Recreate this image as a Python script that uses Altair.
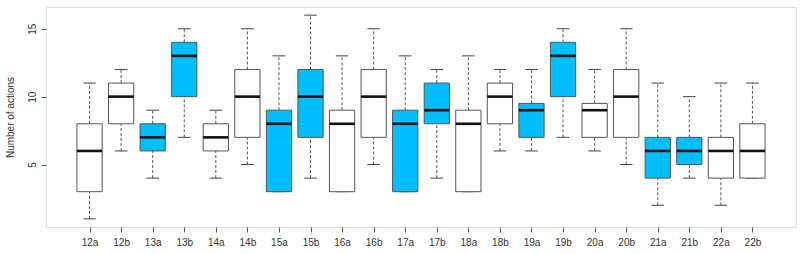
import altair as alt
import pandas as pd

labels = ["12a","12b","13a","13b","14a","14b","15a","15b","16a","16b","17a",
          "17b","18a","18b","19a","19b","20a","20b","21a","21b","22a","22b"]
lower = [1, 6, 4, 7, 4, 5, 3, 4, 3, 5, 3, 4, 3, 6, 6, 7, 6, 5, 2, 4, 2, 4]
q1    = [3, 8, 6, 10, 6, 7, 3, 7, 3, 7, 3, 8, 3, 8, 7, 10, 7, 7, 4, 5, 4, 4]
med   = [6, 10, 7, 13, 7, 10, 8, 10, 8, 10, 8, 9, 8, 10, 9, 13, 9, 10, 6, 6, 6, 6]
q3    = [8, 11, 8, 14, 8, 12, 9, 12, 9, 12, 9, 11, 9, 11, 9.5, 14, 9.5, 12, 7, 7, 7, 8]
upper = [11, 12, 9, 15, 9, 15, 13, 16, 13, 15, 13, 12, 13, 12, 12, 15, 12, 15, 11, 10, 11, 11]
group = ["w","w","b","b","w","w","b","b","w","w","b","b","w","w","b","b","w","w","b","b","w","w"]

df = pd.DataFrame({
    "i": list(range(1, len(labels) + 1)),
    "label": labels, "lo": lower, "q1": q1, "med": med, "q3": q3, "hi": upper, "g": group,
})

label_expr = "[" + ",".join("'%s'" % l for l in labels) + "][datum.value - 1]"

xscale = alt.Scale(domain=[-0.38, 23.38], nice=False, zero=False)
yscale = alt.Scale(domain=[0.4, 16.6], nice=False, zero=False)

xaxis = alt.Axis(values=list(range(1, 23)), labelExpr=label_expr, grid=False,
                 domain=False, tickSize=5, tickColor="#555", labelFont="Liberation Sans",
                 labelFontSize=10, labelColor="#333", labelPadding=5, labelOverlap=False,
                 labelFlush=False, labelBound=False, title=None)
yaxis = alt.Axis(values=[5, 10, 15], grid=False, domain=False, tickSize=5, tickColor="#555",
                 labelAngle=-90, labelAlign="center", labelBaseline="bottom",
                 labelFont="Liberation Sans", labelFontSize=10, labelColor="#333",
                 labelPadding=4, labelOverlap=False,
                 title="Number of actions", titleFont="Liberation Sans",
                 titleFontSize=10, titleFontWeight="normal", titleColor="#333", titlePadding=12)

def X(f):
    return alt.X(f, scale=xscale, axis=xaxis)

def Y(f):
    return alt.Y(f, scale=yscale, axis=yaxis)

base = alt.Chart(df).transform_calculate(
    xl="datum.i - 0.4", xr="datum.i + 0.4", cl="datum.i - 0.2", cr="datum.i + 0.2"
)

wl = base.mark_rule(strokeDash=[3, 2], color="#555", strokeWidth=1).encode(
    x=X("i:Q"), y=Y("lo:Q"), y2="q1:Q")
wu = base.mark_rule(strokeDash=[3, 2], color="#555", strokeWidth=1).encode(
    x=X("i:Q"), y=Y("q3:Q"), y2="hi:Q")
cap_lo = base.mark_rule(color="#444", strokeWidth=1).encode(
    x=X("cl:Q"), x2="cr:Q", y=Y("lo:Q"))
cap_hi = base.mark_rule(color="#444", strokeWidth=1).encode(
    x=X("cl:Q"), x2="cr:Q", y=Y("hi:Q"))
box = base.mark_rect(stroke="#555", strokeWidth=1).encode(
    x=X("xl:Q"), x2="xr:Q", y=Y("q1:Q"), y2="q3:Q",
    fill=alt.Fill("g:N", scale=alt.Scale(domain=["w", "b"], range=["#ffffff", "#00bfff"]),
                  legend=None))
median = base.mark_rule(color="#111", strokeWidth=2.6).encode(
    x=X("xl:Q"), x2="xr:Q", y=Y("med:Q"))

chart = alt.layer(wl, wu, cap_lo, cap_hi, box, median).properties(
    width=750, height=220,
    autosize=alt.AutoSizeParams(type="none"),
    padding={"left": 46, "top": 7, "right": 5, "bottom": 27},
).configure_view(stroke="#666", strokeWidth=1.2).configure_axis(
    labelOverlap=False
).configure(background="white")

chart.save("out.html", embed_options={"renderer": "svg", "actions": False})
